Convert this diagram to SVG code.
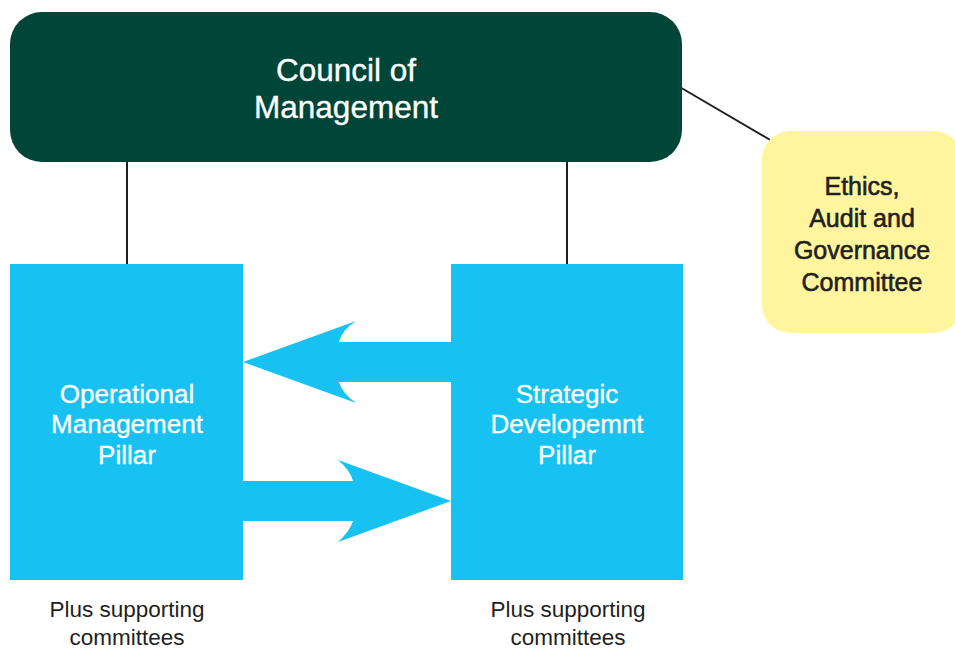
<svg xmlns="http://www.w3.org/2000/svg" width="955" height="650" viewBox="0 0 955 650">
<style>
.t{font-family:"Liberation Sans",Arial,sans-serif;text-anchor:middle}
.w{fill:#ffffff}
.d{fill:#231f20}
.sb{stroke:#231f20;stroke-width:0.6}
.sw{stroke:#ffffff;stroke-width:0.35}
.ln{stroke:#231f20;stroke-width:2;fill:none}
.blue{fill:#17c2f2}
</style>
<rect width="955" height="650" fill="#ffffff"/>
<g id="connectors">
<line class="ln" x1="127" y1="160" x2="127" y2="265"/>
<line class="ln" x1="567" y1="160" x2="567" y2="265"/>
<line class="ln" x1="678" y1="86" x2="772" y2="141"/>
<path id="arrow-left" class="blue" d="M243,362 L356,321 Q342,330 339,342 L452,342 L452,382 L339,382 Q342,393 356,403 Z"/>
<path id="arrow-right" class="blue" d="M451,501 L338,460 Q350,470 353,481 L242,481 L242,521 L353,521 Q350,531 338,542 Z"/>
</g>
<g id="council">
<rect x="10" y="12" width="672" height="150" rx="32" fill="#004638"/>
<text class="t w sw" font-size="31.5"><tspan x="346" y="81">Council of</tspan><tspan x="346" y="118">Management</tspan></text>
</g>
<g id="ethics">
<rect x="762" y="131" width="200" height="202" rx="28" fill="#fff59e"/>
<text class="t d sb" font-size="25"><tspan x="862" y="195">Ethics,</tspan><tspan x="862" y="227">Audit and</tspan><tspan x="862" y="259">Governance</tspan><tspan x="862" y="291">Committee</tspan></text>
</g>
<g id="operational">
<rect class="blue" x="10" y="264" width="233" height="316"/>
<text class="t w sw" font-size="26"><tspan x="127" y="403">Operational</tspan><tspan x="127" y="433">Management</tspan><tspan x="127" y="464">Pillar</tspan></text>
<text class="t d" font-size="22.5"><tspan x="127" y="617">Plus supporting</tspan><tspan x="127" y="645">committees</tspan></text>
</g>
<g id="strategic">
<rect class="blue" x="451" y="264" width="232" height="316"/>
<text class="t w sw" font-size="26"><tspan x="567" y="403">Strategic</tspan><tspan x="567" y="433">Developemnt</tspan><tspan x="567" y="464">Pillar</tspan></text>
<text class="t d" font-size="22.5"><tspan x="568" y="617">Plus supporting</tspan><tspan x="568" y="645">committees</tspan></text>
</g>
</svg>
